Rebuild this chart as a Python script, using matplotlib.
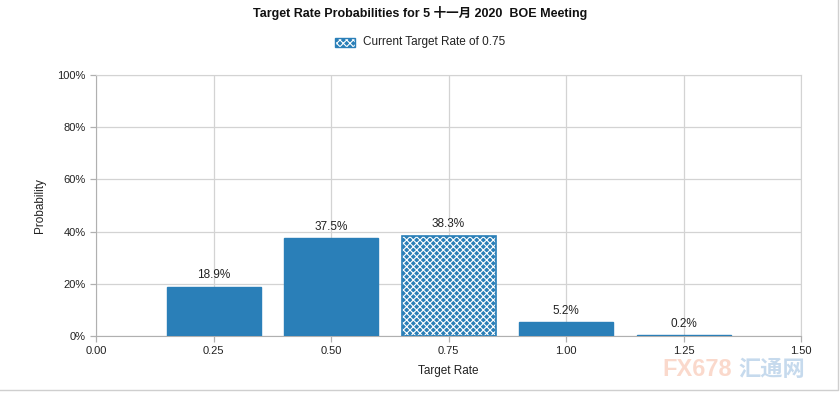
import matplotlib.pyplot as plt
from matplotlib.patches import Rectangle
from matplotlib.ticker import FuncFormatter

rates = [0.25, 0.50, 0.75, 1.00, 1.25]
probs = [18.9, 37.5, 38.3, 5.2, 0.2]
current_rate = 0.75
x_ticks = [0.00, 0.25, 0.50, 0.75, 1.00, 1.25, 1.50]
y_ticks = [0, 20, 40, 60, 80, 100]

fonts = ['Liberation Sans', 'Noto Sans CJK SC', 'DejaVu Sans']
plt.rcParams['font.family'] = fonts
plt.rcParams['hatch.linewidth'] = 0.8

bar_color = '#2a7fb8'
grid_color = '#d3d3d3'
axis_color = '#b0b0b0'

fig = plt.figure(figsize=(8.4, 3.93), dpi=100)
ax = fig.add_axes([0.1143, 0.1450, 0.8393, 0.6642])

for r, p in zip(rates, probs):
    if r == current_rate:
        ax.bar(r, p, width=0.2, color=bar_color, edgecolor='white',
               hatch='xxxxx', linewidth=0, zorder=3)
        ax.bar(r, p, width=0.2, facecolor='none', edgecolor=bar_color,
               linewidth=1.2, zorder=4)
    else:
        ax.bar(r, p, width=0.2, color=bar_color, edgecolor=bar_color,
               linewidth=1.0, zorder=3)
    ax.annotate(f'{p}%', (r, p), xytext=(0, 4), textcoords='offset points',
                ha='center', va='bottom', fontsize=8.5, color='#222222')

ax.set_xlim(0, 1.5)
ax.set_ylim(0, 100)
ax.set_xticks(x_ticks)
ax.set_yticks(y_ticks)
ax.xaxis.set_major_formatter(FuncFormatter(lambda v, _: f'{v:.2f}'))
ax.yaxis.set_major_formatter(FuncFormatter(lambda v, _: f'{v:.0f}%'))
ax.grid(True, color=grid_color, linewidth=0.9, zorder=0)
for s in ax.spines.values():
    s.set_color(grid_color)
ax.spines['left'].set_color(axis_color)
ax.spines['bottom'].set_color(axis_color)
ax.tick_params(axis='both', colors=axis_color, labelcolor='#222222',
               labelsize=8, length=4, width=0.9)

ax.set_xlabel('Target Rate', fontsize=8.5, color='#222222', labelpad=6)
ax.set_ylabel('Probability', fontsize=8.5, color='#222222', labelpad=8)

fig.text(0.5, 0.967, 'Target Rate Probabilities for 5 十一月 2020  BOE Meeting',
         ha='center', va='center', fontsize=9, fontweight='bold',
         color='#111111')

# legend
fig.patches.append(Rectangle((335 / 840, 1 - 47 / 393), 20 / 840, 9 / 393,
                             transform=fig.transFigure, facecolor=bar_color,
                             edgecolor='white', hatch='xxxxx', linewidth=0))
fig.patches.append(Rectangle((335 / 840, 1 - 47 / 393), 20 / 840, 9 / 393,
                             transform=fig.transFigure, facecolor='none',
                             edgecolor=bar_color, linewidth=1))
fig.text(363 / 840, 1 - 42 / 393, 'Current Target Rate of 0.75',
         ha='left', va='center', fontsize=8.5, color='#222222')

# watermark
fig.text(662 / 840, 1 - 370 / 393, 'FX678', fontsize=17, fontweight='bold',
         color='#f7b49a', alpha=0.5, ha='left', va='center', zorder=0)
fig.text(738 / 840, 1 - 370 / 393, '汇通网', fontsize=16, fontweight='bold',
         color='#8fb6dc', alpha=0.5, ha='left', va='center', zorder=0)

# frame edges
fig.add_artist(plt.Line2D([0, 838 / 840, 838 / 840], [3 / 393, 3 / 393, 1],
                          transform=fig.transFigure, color='#cfcfcf',
                          linewidth=1))

fig.savefig('out.png', dpi=100)
